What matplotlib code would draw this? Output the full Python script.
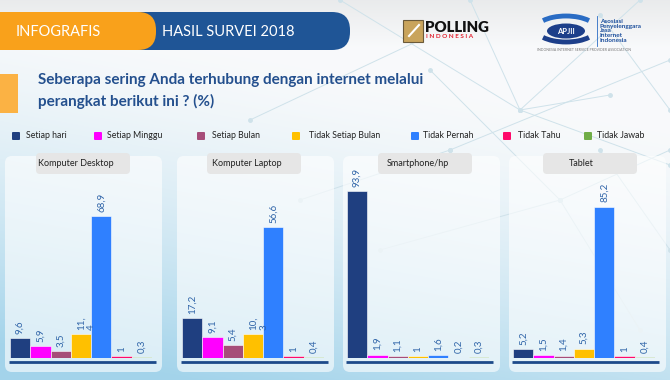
import matplotlib.pyplot as plt
from matplotlib.patches import FancyBboxPatch, Rectangle, Ellipse, Arc
import numpy as np

plt.rcParams['font.family'] = ['Lato', 'DejaVu Sans']

# data
categories = ["Setiap hari", "Setiap Minggu", "Setiap Bulan", "Tidak Setiap Bulan",
              "Tidak Pernah", "Tidak Tahu", "Tidak Jawab"]
colors = ["#1f3f80", "#ff00ff", "#a64d79", "#ffc000", "#2f80ff", "#ff0a6a", "#70ad47"]

devices = ["Komputer Desktop", "Komputer Laptop", "Smartphone/hp", "Tablet"]
desktop = [9.6, 5.9, 3.5, 11.4, 68.9, 1, 0.3]
laptop = [17.2, 9.1, 5.4, 10.3, 56.6, 1, 0.4]
smartphone = [93.9, 1.9, 1.1, 1, 1.6, 0.2, 0.3]
tablet = [5.2, 1.5, 1.4, 5.3, 85.2, 1, 0.4]
series = [desktop, laptop, smartphone, tablet]
# labels that got wrapped in the original (panel, bar)
wrapped = [(0, 3), (1, 3)]

W, H = 670, 380
fig = plt.figure(figsize=(6.7, 3.8), dpi=100)

# background axes in pixel coords
bg = fig.add_axes([0, 0, 1, 1])
bg.set_xlim(0, W)
bg.set_ylim(H, 0)
bg.axis('off')

yy, xx = np.mgrid[0:1:380j, 0:1:670j]
t = np.clip(yy * 1.1 - 0.35 + (1 - xx) * 0.35, 0, 1) ** 1.5
white = np.array([0.975, 0.98, 0.985])
blue = np.array([0.64, 0.83, 0.92])
img = white[None, None, :] * (1 - t[..., None]) + blue[None, None, :] * t[..., None]
top = np.clip(1 - yy * 8, 0, 1)[..., None]
img = img * (1 - top * 0.06)
bg.imshow(img, extent=[0, W, H, 0], aspect='auto', zorder=0)

# faint network lines
net = [((340, 0), (520, 110)), ((450, 150), (670, 60)), ((600, 15), (670, 110)),
       ((520, 110), (670, 165)), ((430, 70), (560, 200)), ((600, 150), (670, 250)),
       ((250, 120), (420, 40)), ((520, 110), (640, 0)), ((560, 200), (670, 150)),
       ((380, 250), (560, 200)), ((610, 95), (520, 110)), ((470, 0), (520, 110)),
       ((560, 200), (640, 330)), ((300, 200), (450, 150))]
for (x0, y0), (x1, y1) in net:
    bg.plot([x0, x1], [y0, y1], color="#cfe2ea", lw=0.7, zorder=1)
    bg.plot([x0, x1], [y0, y1], 'o', color="#cfe2ea", ms=2.5, zorder=1)

# header
bg.add_patch(FancyBboxPatch((120, 12), 230, 38, boxstyle="round,pad=0,rounding_size=18",
                            fc="#1f5596", ec="none", zorder=3))
bg.add_patch(FancyBboxPatch((-20, 12), 176, 38, boxstyle="round,pad=0,rounding_size=18",
                            fc="#f9a11b", ec="none", zorder=4))
bg.text(16, 32, "INFOGRAFIS", color="white", fontsize=10.5, va='center', zorder=5)
bg.text(162, 32, "HASIL SURVEI 2018", color="white", fontsize=10.5, va='center', zorder=5)

# polling indonesia logo
bg.add_patch(Rectangle((403, 20), 20, 22, fc="#c9a45c", ec="#6b5a3a", lw=0.8, zorder=3))
bg.plot([409, 419], [36, 25], color="white", lw=1.5, zorder=4)
bg.text(425, 28, "POLLING", fontsize=10.8, fontweight='heavy', color="#111111", va='center')
bg.text(426, 37, "I N D O N E S I A", fontsize=4.6, fontweight='bold', color="#e2202e", va='center')

# apjii logo
bg.add_patch(Arc((566, 29), 60, 26, theta1=200, theta2=340, color="#2a6cc4", lw=3.5, zorder=3))
bg.add_patch(Arc((566, 29), 60, 26, theta1=20, theta2=160, color="#1d3f8a", lw=3.5, zorder=3))
bg.add_patch(Ellipse((566, 31), 38, 15, fc="#1d3f8a", ec="none", zorder=4))
bg.text(566, 31, "APJII", color="white", fontsize=5.5, fontweight='bold', ha='center', va='center', zorder=5)
bg.plot([597, 597], [16, 46], color="#2a6cc4", lw=0.6)
bg.text(600, 31, "Asosiasi\nPenyelenggara\nJasa\nInternet\nIndonesia", color="#1d4f9c",
        fontsize=4.6, fontweight='bold', va='center', linespacing=0.95)
bg.text(537, 50, "INDONESIA INTERNET SERVICE PROVIDER ASSOCIATION", color="#777777",
        fontsize=2.5, va='center')

# title
bg.add_patch(Rectangle((0, 74), 18, 39, fc="#fbb244", ec="none", zorder=3))
bg.text(38, 80, "Seberapa sering Anda terhubung dengan internet melalui", color="#24508e",
        fontsize=11, fontweight='bold', va='center')
bg.text(38, 101, "perangkat berikut ini ? (%)", color="#24508e",
        fontsize=11, fontweight='bold', va='center')

# legend
leg_sq = [12, 94, 197, 292, 411, 503, 584]
leg_tx = [26, 107, 212, 309, 423, 518, 597]
for c, lbl, sx, tx in zip(colors, categories, leg_sq, leg_tx):
    bg.add_patch(FancyBboxPatch((sx, 132), 8, 8, boxstyle="round,pad=0,rounding_size=1",
                                fc=c, ec="none", zorder=3))
    bg.text(tx, 136, lbl, fontsize=6.3, color="#222222", va='center')

# panels
panel_x = [5, 177, 343, 509]
panel_w = 157
box_x = [36, 207, 378, 543]
box_w = 94
name_x = [38, 212, 387, 569]
bars_x = [10, 182, 347, 513]
bars_w = 142
base_y = 358
ax_top = 191
ylim_top = [81, 72, 94, 94]

for k in range(4):
    bg.add_patch(FancyBboxPatch((panel_x[k], 156), panel_w, 216,
                                boxstyle="round,pad=0,rounding_size=7",
                                fc="white", ec="none", alpha=0.6, zorder=2))
    bg.add_patch(FancyBboxPatch((box_x[k], 153), box_w, 21,
                                boxstyle="round,pad=0,rounding_size=4",
                                fc="#e6e6e6", ec="none", zorder=3))
    bg.text(name_x[k], 163.5, devices[k], fontsize=6.5, color="#222222",
            ha='left', va='center', zorder=4)
    bg.plot([bars_x[k] - 1, bars_x[k] + bars_w + 4], [362, 362], color="#1d4a8a",
            lw=2, solid_capstyle='butt', zorder=3)

    ax = fig.add_axes([bars_x[k] / W, (H - base_y) / H, bars_w / W, (base_y - ax_top) / H])
    ax.patch.set_alpha(0)
    ax.axis('off')
    vals = series[k]
    x = np.arange(len(vals))
    ax.bar(x, vals, width=1.0, color=colors, edgecolor="white", linewidth=0.4)
    ax.set_xlim(-0.5, len(vals) - 0.5)
    ax.set_ylim(0, ylim_top[k])
    for i, v in enumerate(vals):
        lbl = ("%g" % v).replace('.', ',')
        if (k, i) in wrapped:
            lbl = lbl.replace(',', ',\n')
            ax.annotate(lbl, (i, v), xytext=(-3, 3), textcoords='offset points',
                        rotation=90, ha='left', va='bottom', fontsize=7,
                        color="#2f64a8", annotation_clip=False)
        else:
            ax.annotate(lbl, (i, v), xytext=(0, 3), textcoords='offset points',
                        rotation=90, ha='center', va='bottom', fontsize=7,
                        color="#2f64a8", annotation_clip=False)

fig.savefig("out.png", dpi=100)
